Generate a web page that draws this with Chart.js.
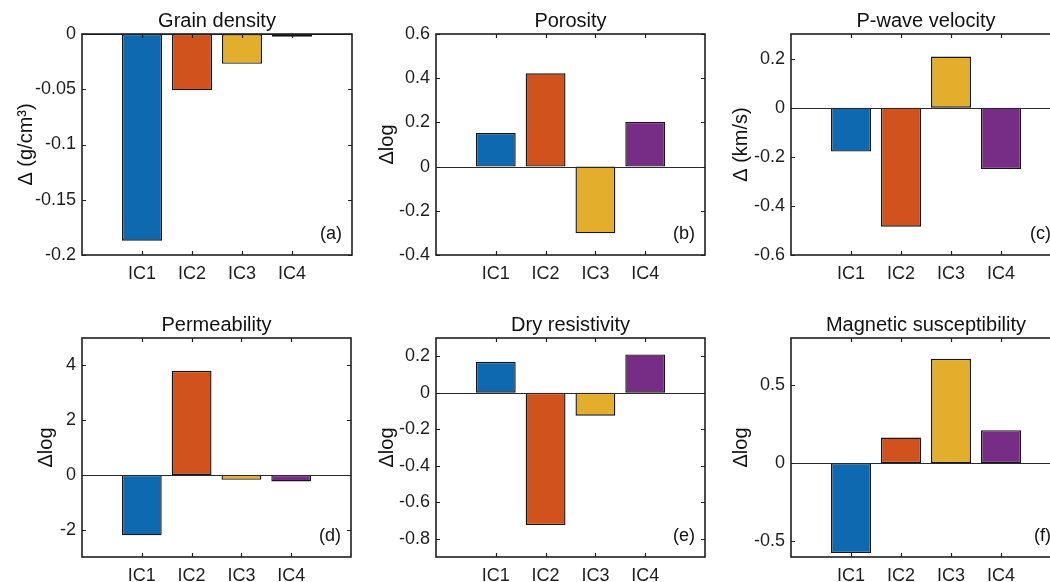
<!DOCTYPE html>
<html>
<head>
<meta charset="utf-8">
<script src="https://cdn.jsdelivr.net/npm/chart.js@4/dist/chart.umd.min.js"></script>
<style>
  html, body { margin:0; padding:0; background:#fff; }
  #wrap { position:relative; width:1050px; height:582px; overflow:hidden; background:#fff; }
  #wrap canvas { position:absolute; }
</style>
</head>
<body>
<div id="wrap"></div>
<script>
// ---------- data ----------
const categories = ['IC1', 'IC2', 'IC3', 'IC4'];

const grainDensity           = [-0.187, -0.051, -0.027, -0.0025];
const porosity               = [0.152, 0.422, -0.302, 0.202];
const pWaveVelocity          = [-0.179, -0.485, 0.208, -0.250];
const permeability           = [-2.21, 3.80, -0.18, -0.24];
const dryResistivity         = [0.170, -0.725, -0.126, 0.210];
const magneticSusceptibility = [-0.575, 0.164, 0.667, 0.211];

const grainDensityTicks           = [0, -0.05, -0.1, -0.15, -0.2];
const porosityTicks               = [0.6, 0.4, 0.2, 0, -0.2, -0.4];
const pWaveVelocityTicks          = [0.2, 0, -0.2, -0.4, -0.6];
const permeabilityTicks           = [4, 2, 0, -2];
const dryResistivityTicks         = [0.2, 0, -0.2, -0.4, -0.6, -0.8];
const magneticSusceptibilityTicks = [0.5, 0, -0.5];

const barColors = ['#0f69b0', '#d2521e', '#e4ae2d', '#772c85'];

// ---------- panels ----------
const panels = [
  { title:'Grain density', ylabel:'Δ (g/cm³)', tag:'(a)', values:grainDensity, ticks:grainDensityTicks, min:-0.2, max:0,
    box:{left:82, top:34, right:352, bottom:255}, yOff:50 },
  { title:'Porosity', ylabel:'Δlog', tag:'(b)', values:porosity, ticks:porosityTicks, min:-0.4, max:0.6,
    box:{left:436, top:34, right:705, bottom:255}, yOff:43 },
  { title:'P-wave velocity', ylabel:'Δ (km/s)', tag:'(c)', values:pWaveVelocity, ticks:pWaveVelocityTicks, min:-0.6, max:0.3,
    box:{left:791, top:34, right:1061, bottom:255}, yOff:44 },
  { title:'Permeability', ylabel:'Δlog', tag:'(d)', values:permeability, ticks:permeabilityTicks, min:-3, max:5,
    box:{left:82, top:338, right:351, bottom:557}, yOff:30 },
  { title:'Dry resistivity', ylabel:'Δlog', tag:'(e)', values:dryResistivity, ticks:dryResistivityTicks, min:-0.9, max:0.3,
    box:{left:436, top:338, right:705, bottom:557}, yOff:43 },
  { title:'Magnetic susceptibility', ylabel:'Δlog', tag:'(f)', values:magneticSusceptibility, ticks:magneticSusceptibilityTicks, min:-0.6, max:0.8,
    box:{left:791, top:338, right:1061, bottom:557}, yOff:44 }
];

const FONT = "'Liberation Sans', Arial, Helvetica, sans-serif";
const INK = '#1e1e1e';
const L = 80, T = 34, R = 10, B = 34;

const panelDecor = {
  id: 'panelDecor',
  afterDatasetsDraw(chart, args, o) {
    const { ctx, chartArea: a, scales: { x, y } } = chart;
    ctx.save();
    // zero baseline
    const y0 = Math.round(y.getPixelForValue(0)) + 0.5;
    ctx.strokeStyle = '#2a2a2a';
    ctx.lineWidth = 1;
    ctx.beginPath(); ctx.moveTo(a.left, y0); ctx.lineTo(a.right, y0); ctx.stroke();
    // inward ticks on all four sides
    ctx.strokeStyle = INK;
    ctx.lineWidth = 1.2;
    const tl = 4;
    x.ticks.forEach(t => {
      const px = Math.round(x.getPixelForValue(t.value)) + 0.5;
      ctx.beginPath();
      ctx.moveTo(px, a.bottom); ctx.lineTo(px, a.bottom - tl);
      ctx.moveTo(px, a.top); ctx.lineTo(px, a.top + tl);
      ctx.stroke();
    });
    y.ticks.forEach(t => {
      const py = Math.round(y.getPixelForValue(t.value)) + 0.5;
      ctx.beginPath();
      ctx.moveTo(a.left, py); ctx.lineTo(a.left + tl, py);
      ctx.moveTo(a.right, py); ctx.lineTo(a.right - tl, py);
      ctx.stroke();
    });
    // axes box
    ctx.lineWidth = 1.6;
    ctx.strokeRect(a.left, a.top, a.right - a.left, a.bottom - a.top);
    // title
    ctx.fillStyle = '#111';
    ctx.font = '20px ' + FONT;
    ctx.textAlign = 'center';
    ctx.textBaseline = 'alphabetic';
    ctx.fillText(o.title, (a.left + a.right) / 2, a.top - 7);
    // panel tag
    ctx.font = '18px ' + FONT;
    ctx.textAlign = 'right';
    ctx.fillText(o.tag, a.right - 10, a.bottom - 16);
    // y label
    ctx.font = '20px ' + FONT;
    ctx.translate(a.left - o.yOff, (a.top + a.bottom) / 2);
    ctx.rotate(-Math.PI / 2);
    ctx.textAlign = 'center';
    ctx.fillText(o.ylabel, 0, 0);
    ctx.restore();
  }
};

const wrap = document.getElementById('wrap');

panels.forEach(p => {
  const w = p.box.right - p.box.left, h = p.box.bottom - p.box.top;
  const cv = document.createElement('canvas');
  cv.width = w + L + R; cv.height = h + T + B;
  cv.style.left = (p.box.left - L) + 'px';
  cv.style.top = (p.box.top - T) + 'px';
  cv.style.width = cv.width + 'px'; cv.style.height = cv.height + 'px';
  wrap.appendChild(cv);

  new Chart(cv, {
    type: 'bar',
    data: {
      datasets: [{
        data: p.values.map((v, i) => ({ x: i + 1, y: v })),
        backgroundColor: barColors,
        borderColor: '#161616',
        borderWidth: 1.4,
        borderSkipped: false,
        barPercentage: 0.8,
        categoryPercentage: 1.0
      }]
    },
    options: {
      responsive: false,
      animation: false,
      devicePixelRatio: 1,
      layout: { padding: { left: 0, top: T, right: R, bottom: 0 } },
      plugins: {
        legend: { display: false },
        tooltip: { enabled: false },
        panelDecor: { title: p.title, ylabel: p.ylabel, tag: p.tag, yOff: p.yOff }
      },
      scales: {
        x: {
          type: 'linear', min: -0.2, max: 5.2, offset: false,
          grid: { display: false, drawTicks: false, offset: false },
          border: { display: false },
          afterBuildTicks: s => { s.ticks = categories.map((c, i) => ({ value: i + 1 })); },
          afterFit: s => { s.height = B; },
          ticks: {
            autoSkip: false, maxRotation: 0, padding: 8,
            color: INK, font: { family: FONT, size: 18 },
            callback: v => categories[Math.round(v) - 1]
          }
        },
        y: {
          min: p.min, max: p.max,
          grid: { display: false, drawTicks: false },
          border: { display: false },
          afterBuildTicks: s => { s.ticks = p.ticks.map(v => ({ value: v })); },
          afterFit: s => { s.width = L; },
          ticks: {
            padding: 6, color: INK, font: { family: FONT, size: 18 },
            callback: v => String(v)
          }
        }
      }
    },
    plugins: [panelDecor]
  });
});
</script>
</body>
</html>
